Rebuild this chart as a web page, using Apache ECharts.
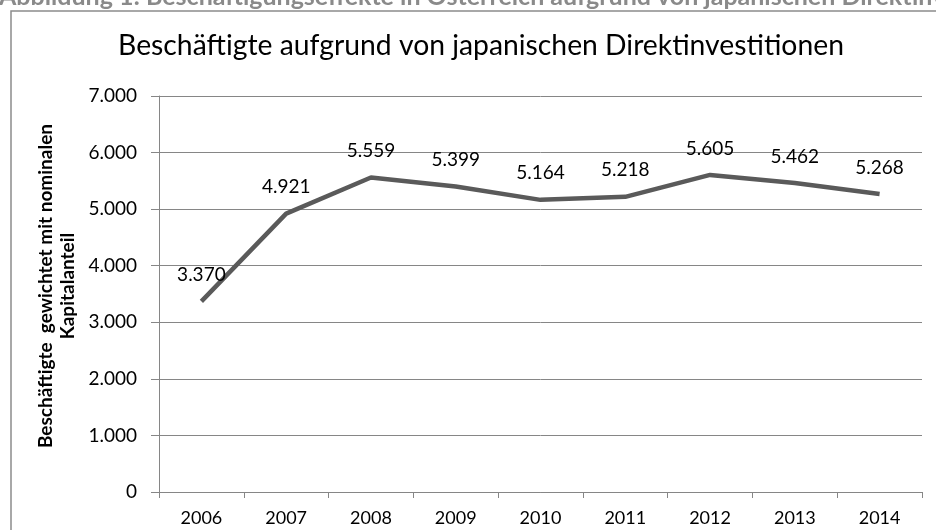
<!DOCTYPE html>
<html><head><meta charset="utf-8">
<script src="https://cdn.jsdelivr.net/npm/echarts@6/dist/echarts.min.js"></script>
<style>html,body{margin:0;padding:0;background:#fff;overflow:hidden}#c{width:936px;height:530px}</style>
</head><body><div id="c"></div>
<script>
const years = ['2006','2007','2008','2009','2010','2011','2012','2013','2014'];
const employees = [3370, 4921, 5559, 5399, 5164, 5218, 5605, 5462, 5268];
const yTicks = [0, 1000, 2000, 3000, 4000, 5000, 6000, 7000];
const titleText = 'Beschäftigte aufgrund von japanischen Direktinvestitionen';
const headerText = 'Abbildung 1: Beschäftigungseffekte in Österreich aufgrund von japanischen Direktinvestitionen';
const yAxisTitle = 'Beschäftigte  gewichtet mit nominalen\nKapitalanteil';

const FONT = 'Lato';
const fmt = v => v === 0 ? '0' : (v / 1000).toFixed(3);

const chart = echarts.init(document.getElementById('c'), null, {renderer: 'canvas'});
chart.setOption({
  animation: false,
  textStyle: {fontFamily: FONT},
  graphic: [
    {type: 'rect', shape: {x: 11, y: 11, width: 940, height: 540}, style: {fill: 'none', stroke: '#8c8c8c', lineWidth: 1.5}, z: -1},
    {type: 'text', x: -1, y: 9, style: {text: headerText, fill: '#8a8a8a', fontSize: 25, fontWeight: 'bold', fontFamily: FONT, verticalAlign: 'bottom'}},
    {type: 'text', x: 481, y: 46, style: {text: titleText, fill: '#000', fontSize: 28.3, fontFamily: FONT, align: 'center', verticalAlign: 'middle'}},
    {type: 'text', x: 57, y: 286, rotation: Math.PI / 2, style: {text: yAxisTitle, fill: '#000', fontSize: 19, fontWeight: 'bold', fontFamily: FONT, align: 'center', verticalAlign: 'middle', lineHeight: 22}}
  ],
  grid: {left: 159, right: 14, top: 96, bottom: 38, containLabel: false},
  xAxis: {
    type: 'category', data: years, boundaryGap: true,
    axisLine: {lineStyle: {color: '#868686', width: 1}},
    axisTick: {show: true, length: 6, lineStyle: {color: '#868686'}, alignWithLabel: false},
    axisLabel: {color: '#000', fontSize: 18, fontFamily: FONT, margin: 17}
  },
  yAxis: {
    type: 'value', min: 0, max: 7000, interval: 1000,
    axisLine: {show: true, lineStyle: {color: '#868686', width: 1}},
    axisTick: {show: true, length: 8, lineStyle: {color: '#868686'}},
    splitLine: {lineStyle: {color: '#868686', width: 1}},
    axisLabel: {color: '#000', fontSize: 19, fontFamily: FONT, margin: 22,
      formatter: v => yTicks.includes(v) ? fmt(v) : ''}
  },
  series: [{
    type: 'line', data: employees, symbol: 'circle', symbolSize: 2, showSymbol: true,
    itemStyle: {color: 'rgba(0,0,0,0)', borderWidth: 0},
    lineStyle: {color: '#5a5a5a', width: 4.5},
    labelLayout: {hideOverlap: false},
    label: {show: true, position: 'top', distance: 16, offset: [-2, 0], color: '#000', opacity: 1, fontSize: 19, fontFamily: FONT,
      formatter: p => fmt(p.value)}
  }]
});
</script></body></html>
